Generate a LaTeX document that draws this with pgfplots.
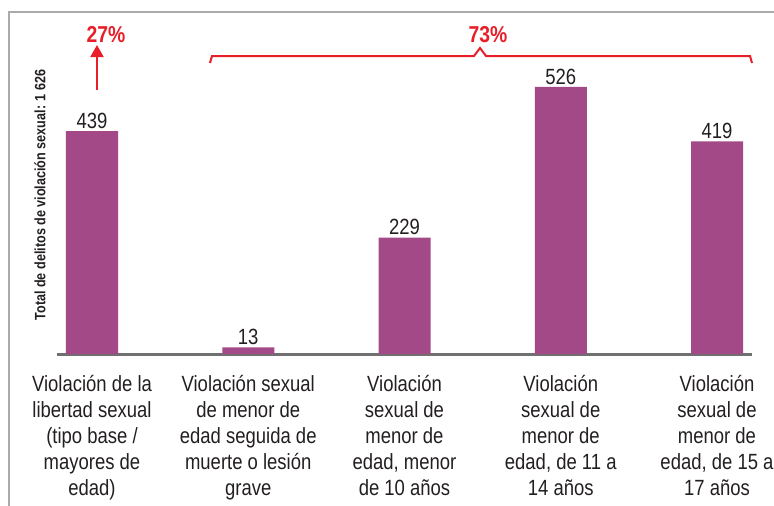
\documentclass[border=0pt]{standalone}
\usepackage{pgfplots}
\pgfplotsset{compat=1.18}
\usepackage{fontspec}
\setmainfont{Liberation Sans}[FakeStretch=0.84]
\usetikzlibrary{arrows.meta}
\definecolor{barc}{RGB}{164,73,135}
\definecolor{redc}{RGB}{232,30,40}
\definecolor{txt}{RGB}{35,31,32}
\definecolor{frame}{RGB}{170,170,170}
\definecolor{axisc}{RGB}{112,112,112}
\begin{document}
\begin{tikzpicture}
\useasboundingbox (0pt,0pt) rectangle (774pt,-506pt);
% frame
\draw[frame, line width=1.5pt] (9pt,-506pt) -- (9pt,-12pt) -- (774pt,-12pt);
\coordinate (O) at (57pt,-354pt);

\begin{axis}[
    at={(O)}, anchor=south west,
    scale only axis,
    width=695pt, height=284.3pt,
    xmin=-0.224, xmax=4.224,
    ymin=0, ymax=560,
    axis y line=none,
    axis x line*=bottom,
    x axis line style={axisc, line width=3pt, -},
    xtick=data,
    xtick style={draw=none},
    xticklabels={
        {Violación de la\\libertad sexual\\(tipo base /\\mayores de\\edad)},
        {Violación sexual\\de menor de\\edad seguida de\\muerte o lesión\\grave},
        {Violación\\sexual de\\menor de\\edad, menor\\de 10 años},
        {Violación\\sexual de\\menor de\\edad, de 11 a\\14 años},
        {Violación\\sexual de\\menor de\\edad, de 15 a\\17 años}
    },
    xticklabel style={align=center, anchor=north, yshift=-13pt,
        font=\fontsize{22}{26}\selectfont, text=txt},
    ybar, bar width=52pt,
    nodes near coords,
    /pgf/number format/assume math mode=true,
    every node near coord/.append style={font=\fontsize{22}{24}\selectfont, text=txt, yshift=-1pt},
]
\addplot[fill=barc, draw=none] coordinates {
    (0,439) (1,13) (2,229) (3,526) (4,419)
};
\end{axis}

% y label
\node[rotate=90, font=\fontsize{15}{17}\selectfont\bfseries, text=txt] at (40pt,-195pt)
    {Total de delitos de violación sexual: 1 626};

% 27% annotation
\draw[redc, line width=2pt, -{Triangle[length=12pt, width=13pt]}] (97pt,-90pt) -- (97pt,-45pt);
\node[redc, font=\fontsize{23}{25}\selectfont\bfseries] at (106pt,-35pt) {27\%};

% 73% brace
\draw[redc, line width=2pt, line join=miter]
    (210pt,-63pt) -- (212pt,-56pt) -- (474pt,-56pt) -- (480pt,-48pt) -- (486pt,-56pt) -- (750pt,-56pt) -- (752pt,-63pt);
\node[redc, font=\fontsize{23}{25}\selectfont\bfseries] at (488pt,-35pt) {73\%};
\end{tikzpicture}
\end{document}
